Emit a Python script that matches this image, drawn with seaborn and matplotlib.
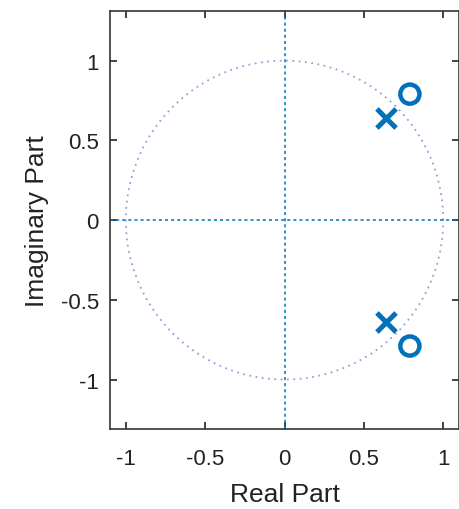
import matplotlib
matplotlib.use("Agg")
import matplotlib.pyplot as plt
import seaborn as sns
import numpy as np
import pandas as pd

# zeros and poles
zeros_re = [0.79, 0.79]
zeros_im = [0.79, -0.79]
poles_re = [0.64, 0.64]
poles_im = [0.64, -0.64]
ticks_x = [-1, -0.5, 0, 0.5, 1]
ticks_y = [-1, -0.5, 0, 0.5, 1]
tick_text = ["-1", "-0.5", "0", "0.5", "1"]

blue = "#0072BD"

sns.set_style("ticks")
plt.rcParams['font.family'] = ['Liberation Sans', 'DejaVu Sans']

fig = plt.figure(figsize=(4.6, 5.1), dpi=100)
ax = fig.add_axes([0.239, 0.157, 0.759, 0.819])

# unit circle and axis lines
theta = np.linspace(0, 2 * np.pi, 400)
ax.plot(np.cos(theta), np.sin(theta), linestyle=(0, (1, 2.5)), color="#8aa6d6", lw=1.3)
ax.axhline(0, color=blue, linestyle=(0, (2, 2)), lw=1.1)
ax.axvline(0, color=blue, linestyle=(0, (2, 2)), lw=1.1)

zdf = pd.DataFrame({"re": zeros_re, "im": zeros_im})
pdf = pd.DataFrame({"re": poles_re, "im": poles_im})
sns.scatterplot(data=zdf, x="re", y="im", ax=ax, marker="o", s=190,
                facecolor="none", edgecolor=blue, linewidth=3.2, zorder=5)
sns.scatterplot(data=pdf, x="re", y="im", ax=ax, marker="x", s=190,
                color=blue, linewidth=3.6, zorder=5)

ax.set_xlim(-1.1, 1.1)
ax.set_ylim(-1.31, 1.31)
ax.set_xticks(ticks_x)
ax.set_yticks(ticks_y)
ax.set_xticklabels(tick_text)
ax.set_yticklabels(tick_text)
ax.tick_params(direction="in", length=5, width=1.2, labelsize=16,
               top=True, right=True, colors="#222222")
ax.tick_params(axis="x", pad=14)
ax.tick_params(axis="y", pad=8)
ax.set_xlabel("Real Part", fontsize=19, color="#222222", labelpad=9)
ax.set_ylabel("Imaginary Part", fontsize=19, color="#222222", labelpad=8)
for s in ax.spines.values():
    s.set_color("#333333")
    s.set_linewidth(1.2)

fig.savefig("out.png", dpi=100)
